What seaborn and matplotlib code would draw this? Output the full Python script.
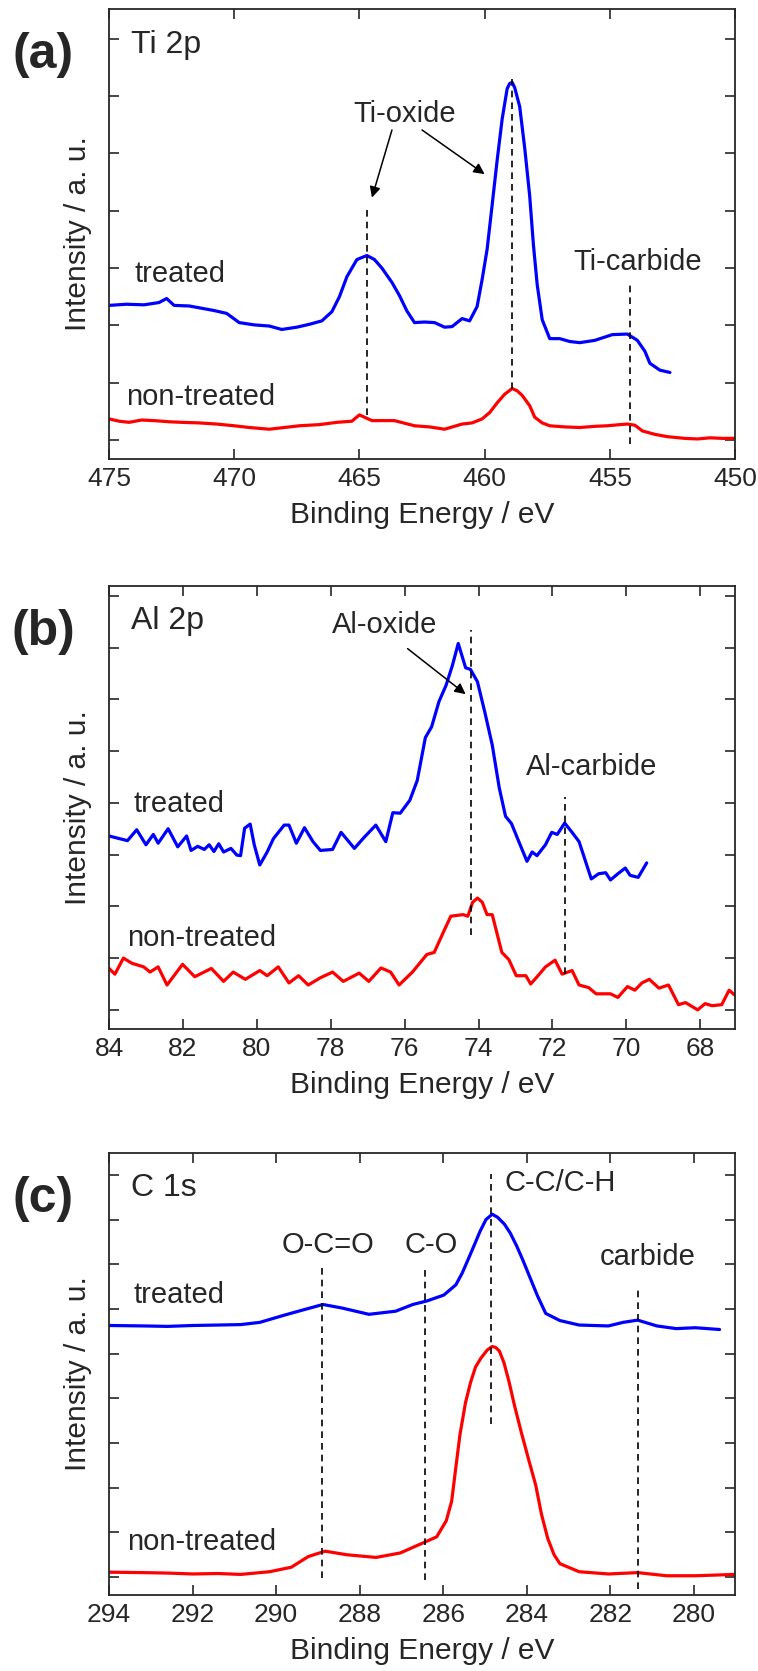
"""
XPS spectra (Ti 2p, Al 2p, C 1s) for treated / non-treated surfaces.
"""
import matplotlib
matplotlib.use("Agg")
import matplotlib.pyplot as plt
import seaborn as sns

# ---- data (intensity in arbitrary units, one unit = one y tick) ----
# (a) Ti 2p
ti_treated_be = [475.0, 474.3, 473.6, 473.0, 472.7, 472.4, 471.8, 471.3, 470.8, 470.3,
                 469.8, 469.2, 468.6, 468.1, 467.5, 467.0, 466.5, 466.1, 465.8, 465.5,
                 465.1, 464.7, 464.4, 464.1, 463.7, 463.4, 463.1, 462.8, 462.4, 462.0,
                 461.6, 461.3, 460.9, 460.6, 460.3, 460.1, 459.9, 459.7, 459.5, 459.3,
                 459.1, 459.0, 458.9, 458.8, 458.6, 458.4, 458.2, 458.05, 457.9, 457.7,
                 457.4, 457.0, 456.6, 456.2, 455.6, 454.9, 454.3, 453.9, 453.6, 453.4,
                 453.0, 452.6]
ti_treated_int = [2.35, 2.37, 2.36, 2.40, 2.47, 2.35, 2.34, 2.30, 2.26, 2.21,
                  2.05, 2.01, 1.99, 1.93, 1.97, 2.02, 2.08, 2.24, 2.50, 2.85,
                  3.15, 3.22, 3.15, 3.00, 2.75, 2.52, 2.25, 2.05, 2.06, 2.05,
                  1.97, 1.98, 2.12, 2.08, 2.33, 2.80, 3.33, 4.10, 4.88, 5.60,
                  6.13, 6.22, 6.24, 6.15, 5.82, 5.10, 4.26, 3.40, 2.71, 2.10,
                  1.77, 1.77, 1.72, 1.70, 1.74, 1.84, 1.85, 1.74, 1.55, 1.34,
                  1.22, 1.18]
ti_plain_be = [475.0, 474.6, 474.2, 473.7, 473.2, 472.6, 472.1, 471.4, 470.7, 470.0,
               469.4, 468.6, 468.0, 467.4, 466.6, 465.9, 465.3, 465.0, 464.5, 463.6,
               462.8, 462.2, 461.6, 460.9, 460.5, 460.1, 459.8, 459.5, 459.2, 458.9,
               458.7, 458.5, 458.2, 458.0, 457.7, 457.4, 456.8, 456.2, 455.6, 455.1,
               454.6, 454.3, 454.0, 453.7, 453.2, 452.7, 452.0, 451.5, 451.0, 450.5,
               450.0]
ti_plain_int = [0.37, 0.33, 0.31, 0.35, 0.34, 0.32, 0.31, 0.30, 0.28, 0.25,
                0.22, 0.19, 0.22, 0.25, 0.27, 0.31, 0.33, 0.44, 0.34, 0.34,
                0.25, 0.23, 0.19, 0.28, 0.30, 0.37, 0.48, 0.65, 0.80, 0.90,
                0.86, 0.78, 0.60, 0.40, 0.30, 0.25, 0.23, 0.22, 0.24, 0.25,
                0.27, 0.28, 0.26, 0.16, 0.10, 0.06, 0.03, 0.02, 0.04, 0.03,
                0.03]
ti_marks_be = [464.7, 458.9, 454.2]
ti_marks_lo = [0.44, 0.90, -0.06]
ti_marks_hi = [4.01, 6.32, 2.71]

# (b) Al 2p
al_treated_be = [84.0, 83.78, 83.5, 83.25, 83.0, 82.8, 82.67, 82.4, 82.14, 81.9,
                 81.78, 81.6, 81.42, 81.29, 81.16, 81.03, 80.9, 80.7, 80.54, 80.44,
                 80.33, 80.18, 80.07, 79.92, 79.72, 79.55, 79.26, 79.13, 78.93, 78.71,
                 78.48, 78.28, 77.95, 77.72, 77.36, 77.1, 76.78, 76.51, 76.32, 76.12,
                 75.86, 75.66, 75.44, 75.27, 75.07, 74.88, 74.71, 74.55, 74.35, 74.22,
                 74.03, 73.83, 73.63, 73.44, 73.27, 73.11, 72.91, 72.69, 72.55, 72.42,
                 72.19, 72.02, 71.87, 71.67, 71.47, 71.28, 70.95, 70.75, 70.56, 70.43,
                 70.23, 70.03, 69.9, 69.68, 69.45]
al_treated_int = [3.36, 3.32, 3.27, 3.48, 3.19, 3.39, 3.22, 3.50, 3.15, 3.36,
                  3.08, 3.16, 3.10, 3.19, 3.06, 3.21, 3.05, 3.12, 2.99, 2.98,
                  3.51, 3.59, 3.19, 2.80, 3.05, 3.31, 3.57, 3.57, 3.22, 3.52,
                  3.25, 3.08, 3.10, 3.43, 3.12, 3.33, 3.57, 3.25, 3.81, 3.80,
                  4.05, 4.43, 5.26, 5.47, 5.96, 6.27, 6.65, 7.08, 6.61, 6.58,
                  6.34, 5.75, 5.12, 4.29, 3.74, 3.60, 3.25, 2.87, 3.05, 2.98,
                  3.19, 3.43, 3.39, 3.61, 3.43, 3.25, 2.53, 2.63, 2.65, 2.51,
                  2.63, 2.74, 2.60, 2.56, 2.84]
al_plain_be = [84.0, 83.84, 83.61, 83.38, 83.06, 82.89, 82.67, 82.43, 82.01, 81.68,
               81.23, 80.9, 80.64, 80.31, 79.92, 79.72, 79.42, 79.13, 78.87, 78.61,
               78.28, 77.95, 77.66, 77.23, 76.97, 76.64, 76.38, 76.15, 75.79, 75.4,
               75.2, 74.94, 74.75, 74.42, 74.29, 74.16, 74.03, 73.9, 73.77, 73.63,
               73.37, 73.18, 72.98, 72.72, 72.59, 72.39, 72.19, 71.93, 71.74, 71.47,
               71.28, 71.02, 70.82, 70.43, 70.23, 69.97, 69.77, 69.58, 69.38, 69.12,
               68.86, 68.59, 68.4, 68.07, 67.87, 67.68, 67.42, 67.22, 67.06]
al_plain_int = [0.80, 0.69, 1.00, 0.90, 0.83, 0.73, 0.83, 0.48, 0.88, 0.64,
                0.80, 0.55, 0.73, 0.59, 0.76, 0.66, 0.83, 0.52, 0.66, 0.48,
                0.62, 0.73, 0.55, 0.71, 0.55, 0.81, 0.73, 0.48, 0.73, 1.07,
                1.11, 1.52, 1.81, 1.84, 1.81, 2.08, 2.16, 2.08, 1.84, 1.84,
                1.11, 0.97, 0.66, 0.66, 0.50, 0.66, 0.83, 0.96, 0.69, 0.76,
                0.48, 0.43, 0.31, 0.31, 0.24, 0.45, 0.38, 0.52, 0.59, 0.42,
                0.48, 0.10, 0.14, 0.00, 0.12, 0.08, 0.10, 0.38, 0.28]
al_marks_be = [74.2, 71.65]
al_marks_lo = [1.45, 0.69]
al_marks_hi = [7.34, 4.12]

# (c) C 1s
c_treated_be = [294.0, 293.17, 292.6, 292.0, 291.4, 290.85, 290.39, 289.81, 289.35, 288.88,
                288.42, 287.78, 287.14, 286.73, 286.39, 285.99, 285.70, 285.55, 285.41, 285.25,
                285.12, 284.98, 284.83, 284.7, 284.54, 284.4, 284.25, 284.1, 283.96, 283.75,
                283.55, 283.21, 282.75, 282.05, 281.70, 281.35, 280.89, 280.43, 279.97, 279.39]
c_treated_int = [5.63, 5.62, 5.61, 5.63, 5.64, 5.65, 5.70, 5.86, 5.98, 6.10,
                 6.02, 5.88, 5.95, 6.10, 6.18, 6.31, 6.54, 6.80, 7.10, 7.45,
                 7.74, 8.00, 8.12, 8.05, 7.90, 7.70, 7.42, 7.10, 6.78, 6.30,
                 5.90, 5.74, 5.64, 5.62, 5.70, 5.75, 5.62, 5.56, 5.58, 5.54]
c_plain_be = [294.0, 293.17, 292.6, 292.0, 291.4, 290.85, 290.16, 289.64, 289.23, 288.83,
              288.31, 287.61, 287.03, 286.45, 286.16, 285.93, 285.8, 285.70, 285.6, 285.47,
              285.35, 285.23, 285.1, 284.95, 284.83, 284.75, 284.66, 284.55, 284.43, 284.3,
              284.14, 283.95, 283.79, 283.65, 283.50, 283.35, 283.21, 282.75, 282.05, 281.35,
              280.66, 279.97, 279.02]
c_plain_int = [0.11, 0.10, 0.09, 0.07, 0.08, 0.06, 0.12, 0.22, 0.46, 0.58,
               0.50, 0.44, 0.54, 0.78, 0.90, 1.26, 1.70, 2.46, 3.20, 3.90,
               4.35, 4.70, 4.90, 5.08, 5.16, 5.14, 5.06, 4.80, 4.38, 3.85,
               3.26, 2.60, 2.06, 1.40, 0.86, 0.50, 0.30, 0.12, 0.07, 0.10,
               0.03, 0.03, 0.06]
c_marks_be = [288.9, 286.45, 284.85, 281.35]
c_marks_lo = [-0.02, -0.06, 3.42, -0.26]
c_marks_hi = [7.02, 6.98, 9.02, 6.46]

panels = ["(a)", "(b)", "(c)"]
core_levels = ["Ti 2p", "Al 2p", "C 1s"]
x_ranges = [(475, 450), (84, 67.06), (294, 279.02)]
x_steps = [5, 2, 2]
n_yticks = [8, 9, 10]
y_ranges = [(-0.33, 7.52), (-0.37, 8.19), (-0.40, 9.49)]

sns.set_style("ticks")
plt.rcParams["font.family"] = ["Liberation Sans", "DejaVu Sans"]
plt.rcParams["axes.linewidth"] = 1.3

fig = plt.figure(figsize=(7.58, 16.71), dpi=100)
boxes = [
    [0.1438, 0.7253, 0.8259, 0.2693],
    [0.1438, 0.3842, 0.8259, 0.2651],
    [0.1438, 0.0455, 0.8259, 0.2645],
]
axes = [fig.add_axes(b) for b in boxes]

blue = "#0000ff"
red = "#ff0000"

spectra = [
    (ti_treated_be, ti_treated_int, ti_plain_be, ti_plain_int),
    (al_treated_be, al_treated_int, al_plain_be, al_plain_int),
    (c_treated_be, c_treated_int, c_plain_be, c_plain_int),
]
marks = [
    (ti_marks_be, ti_marks_lo, ti_marks_hi),
    (al_marks_be, al_marks_lo, al_marks_hi),
    (c_marks_be, c_marks_lo, c_marks_hi),
]

for i, ax in enumerate(axes):
    tbe, tint, pbe, pint = spectra[i]
    sns.lineplot(x=tbe, y=tint, ax=ax, color=blue, linewidth=2.3, sort=False, estimator=None)
    sns.lineplot(x=pbe, y=pint, ax=ax, color=red, linewidth=2.3, sort=False, estimator=None)

    for be, lo, hi in zip(*marks[i]):
        ax.plot([be, be], [lo, hi], color="black", linestyle=(0, (4, 3)), linewidth=1.2)

    x0, x1 = x_ranges[i]
    ax.set_xlim(x0, x1)
    ticks = list(range(int(round(max(x0, x1))), int(min(x0, x1)) - 1, -x_steps[i]))
    ticks = [t for t in ticks if min(x0, x1) - 0.01 <= t <= max(x0, x1) + 0.01]
    ax.set_xticks(ticks)
    ax.set_ylim(*y_ranges[i])
    ax.set_yticks(list(range(n_yticks[i])))
    ax.tick_params(direction="in", length=7, width=1.2, top=True, right=True,
                   labelleft=False, labelsize=19, pad=6)
    ax.set_xlabel("Binding Energy / eV", fontsize=21.5, labelpad=7)
    ax.set_ylabel("Intensity / a. u.", fontsize=21.5, labelpad=12)

    ax.text(0.035, 0.92, core_levels[i], transform=ax.transAxes, fontsize=23,
            ha="left", va="center")
    ax.text(-0.105, 0.897, panels[i], transform=ax.transAxes, fontsize=36,
            fontweight="bold", ha="center", va="center")

# ---- annotations ----
fs = 21
ann = dict(fontsize=fs, ha="center", va="center")
arrow = dict(arrowstyle="-|>", color="black", lw=1.1, mutation_scale=16, shrinkA=0, shrinkB=0)

ax = axes[0]
ax.text(474.0, 2.89, "treated", fontsize=fs, ha="left", va="center")
ax.text(474.3, 0.75, "non-treated", fontsize=fs, ha="left", va="center")
ax.text(463.2, 5.69, "Ti-oxide", **ann)
ax.text(453.9, 3.11, "Ti-carbide", **ann)
ax.annotate("", xy=(464.5, 4.23), xytext=(463.7, 5.41), arrowprops=arrow)
ax.annotate("", xy=(460.0, 4.64), xytext=(462.5, 5.41), arrowprops=arrow)

ax = axes[1]
ax.text(83.35, 3.98, "treated", fontsize=fs, ha="left", va="center")
ax.text(83.52, 1.39, "non-treated", fontsize=fs, ha="left", va="center")
ax.text(76.55, 7.44, "Al-oxide", **ann)
ax.text(70.95, 4.69, "Al-carbide", **ann)
ax.annotate("", xy=(74.35, 6.10), xytext=(75.92, 6.98), arrowprops=arrow)

ax = axes[2]
ax.text(293.42, 6.31, "treated", fontsize=fs, ha="left", va="center")
ax.text(293.57, 0.78, "non-treated", fontsize=fs, ha="left", va="center")
ax.text(288.77, 7.42, "O-C=O", **ann)
ax.text(286.3, 7.42, "C-O", **ann)
ax.text(284.54, 8.82, "C-C/C-H", fontsize=fs, ha="left", va="center")
ax.text(281.12, 7.16, "carbide", **ann)

fig.savefig("out.png", dpi=100)
